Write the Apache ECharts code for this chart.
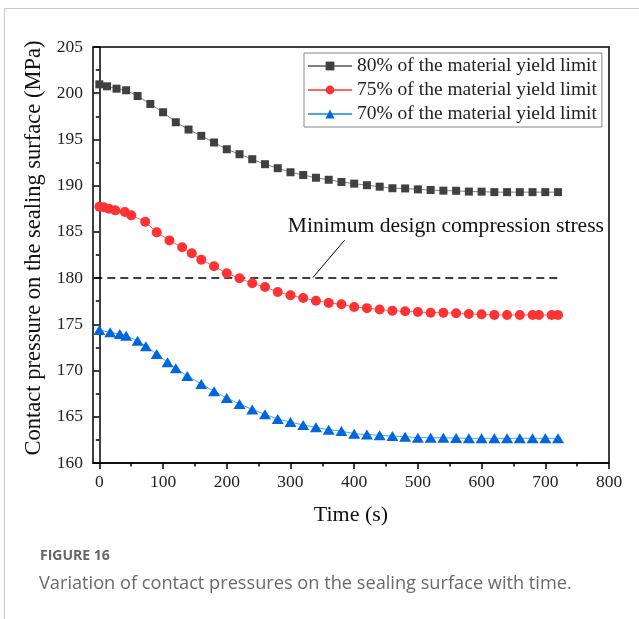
<!DOCTYPE html>
<html>
<head>
<meta charset="utf-8">
<script src="https://cdn.jsdelivr.net/npm/echarts@6/dist/echarts.min.js"></script>
<style>
html,body{margin:0;padding:0;background:#fff;}
#chart{width:639px;height:619px;}
</style>
</head>
<body>
<div id="chart"></div>
<script>
// ---- data ----
const seriesNames = [
  '80% of the material yield limit',
  '75% of the material yield limit',
  '70% of the material yield limit'
];
const time80 = [0,12,27,42,60,80,100,120,140,160,180,200,220,240,260,280,300,320,340,360,380,400,420,440,460,480,500,520,540,560,580,600,620,640,660,680,700,720];
const p80 = [200.96,200.75,200.49,200.32,199.70,198.84,197.94,196.86,196.07,195.39,194.67,193.94,193.40,192.86,192.32,191.89,191.45,191.15,190.86,190.64,190.40,190.22,190.05,189.89,189.72,189.70,189.60,189.53,189.46,189.45,189.36,189.35,189.30,189.30,189.30,189.30,189.30,189.30];
const time75 = [0,7,15,25,40,50,72,90,110,130,145,160,180,200,220,240,260,280,300,320,340,360,380,400,420,440,460,480,500,520,540,560,580,600,620,640,660,680,690,710,720];
const p75 = [187.72,187.66,187.51,187.33,187.15,186.79,186.10,184.95,184.08,183.33,182.68,181.99,181.28,180.52,179.98,179.44,179.04,178.50,178.14,177.85,177.56,177.32,177.17,176.88,176.75,176.60,176.47,176.41,176.33,176.26,176.26,176.19,176.12,176.08,176.02,176.00,176.00,176.00,176.00,176.00,176.00];
const time70 = [0,17,32,42,60,73,90,107,120,138,160,180,200,220,240,260,280,300,320,340,360,380,400,420,440,460,480,500,520,540,560,580,600,620,640,660,680,700,720];
const p70 = [174.39,174.14,173.95,173.77,173.23,172.62,171.79,170.89,170.24,169.41,168.54,167.75,167.03,166.38,165.80,165.26,164.76,164.43,164.11,163.86,163.60,163.45,163.17,163.08,163.00,162.92,162.84,162.74,162.74,162.72,162.70,162.67,162.67,162.67,162.67,162.67,162.67,162.67,162.67];
const designStress = 180;
const designLineTime = [-8, 720];
const annotationText = 'Minimum design compression stress';
const xTicks = [0,100,200,300,400,500,600,700,800];
const xMinorTicks = [50,150,250,350,450,550,650,750];
const xTitle = 'Time (s)';
const yTitle = 'Contact pressure on the sealing surface (MPa)';
const captionHead = 'FIGURE 16';
const captionText = 'Variation of contact pressures on the sealing surface with time.';

const zip = (xs, ys) => xs.map((x, i) => [x, ys[i]]);

const serif = 'Liberation Serif';
const chart = echarts.init(document.getElementById('chart'), null, {renderer: 'canvas'});

const xCommon = {
  type: 'value', min: -10, max: 800, position: 'bottom', gridIndex: 0,
  splitLine: {show: false}
};

const option = {
  animation: false,
  backgroundColor: '#fff',
  title: [
    {text: captionHead, left: 35, top: 544,
     textStyle: {fontFamily: 'Open Sans', fontWeight: 'bold', fontSize: 14, color: '#666'}},
    {text: captionText, left: 34, top: 570,
     textStyle: {fontFamily: 'Open Sans', fontWeight: 'normal', fontSize: 18.2, color: '#6a6a6a'}}
  ],
  grid: {left: 93, right: 30, top: 47, bottom: 156, show: true, borderColor: '#000', borderWidth: 1.5, containLabel: false},
  legend: {
    data: seriesNames,
    orient: 'vertical',
    left: 304, top: 53,
    padding: [3, 5, 3, 3],
    itemGap: 4,
    itemWidth: 44, itemHeight: 11,
    borderColor: '#888', borderWidth: 1,
    textStyle: {fontFamily: serif, fontSize: 19.5, color: '#222', lineHeight: 20}
  },
  xAxis: [
    Object.assign({}, xCommon, {
      name: xTitle, nameLocation: 'middle', nameGap: 41,
      nameTextStyle: {fontFamily: serif, fontSize: 22, color: '#111'},
      axisLine: {show: true, lineStyle: {color: '#000', width: 1.5}},
      axisTick: {show: true, length: 6, customValues: xTicks, lineStyle: {color: '#000', width: 1.5}},
      axisLabel: {show: true, customValues: xTicks, margin: 10, fontFamily: serif, fontSize: 17.5, color: '#222'}
    }),
    Object.assign({}, xCommon, {
      axisLine: {show: false},
      axisTick: {show: true, length: 3.5, customValues: xMinorTicks, lineStyle: {color: '#000', width: 1.5}},
      axisLabel: {show: false}
    })
  ],
  yAxis: {
    type: 'value', min: 160, max: 205, interval: 5,
    name: yTitle, nameLocation: 'middle', nameGap: 43, nameRotate: 90,
    nameTextStyle: {fontFamily: serif, fontSize: 22.5, color: '#111', padding: [0, 0, 0, 14]},
    axisLine: {show: true, lineStyle: {color: '#000', width: 1.5}},
    axisTick: {show: true, length: 6, lineStyle: {color: '#000', width: 1.5}},
    minorTick: {show: true, splitNumber: 2, length: 3.5, lineStyle: {color: '#000', width: 1.5}},
    axisLabel: {margin: 10, fontFamily: serif, fontSize: 17.5, color: '#222'},
    splitLine: {show: false}
  },
  series: [
    {
      name: seriesNames[0], type: 'line', data: zip(time80, p80),
      symbol: 'rect', symbolSize: 8,
      itemStyle: {color: '#404040'},
      lineStyle: {color: '#808080', width: 1}
    },
    {
      name: seriesNames[1], type: 'line', data: zip(time75, p75),
      symbol: 'circle', symbolSize: 10,
      itemStyle: {color: '#ff3333'},
      lineStyle: {color: '#ff6666', width: 1}
    },
    {
      name: seriesNames[2], type: 'line', data: zip(time70, p70),
      symbol: 'triangle', symbolSize: [12, 10],
      itemStyle: {color: '#0066dd'},
      lineStyle: {color: '#4aa3f5', width: 1}
    },
    {
      name: 'design', type: 'line', silent: true,
      data: designLineTime.map(t => [t, designStress]),
      symbol: 'none',
      lineStyle: {color: '#000', width: 1.5, type: [8, 5]},
      markLine: {
        silent: true, symbol: 'none', label: {show: false},
        lineStyle: {color: '#000', width: 1, type: 'solid'},
        data: [[{coord: [335, 180.05]}, {coord: [385, 184.1]}]]
      },
      markPoint: {
        silent: true, symbol: 'circle', symbolSize: 0,
        label: {show: true, position: 'inside', formatter: annotationText,
                fontFamily: serif, fontSize: 21.6, color: '#111'},
        data: [{coord: [544, 185.64]}]
      }
    }
  ],
  graphic: [
    {type: 'line', shape: {x1: 4.5, y1: 8, x2: 4.5, y2: 619}, style: {stroke: '#c8c8c8', lineWidth: 1}, silent: true},
    {type: 'line', shape: {x1: 4.5, y1: 8.5, x2: 639, y2: 8.5}, style: {stroke: '#c8c8c8', lineWidth: 1}, silent: true}
  ]
};
chart.setOption(option);
</script>
</body>
</html>
